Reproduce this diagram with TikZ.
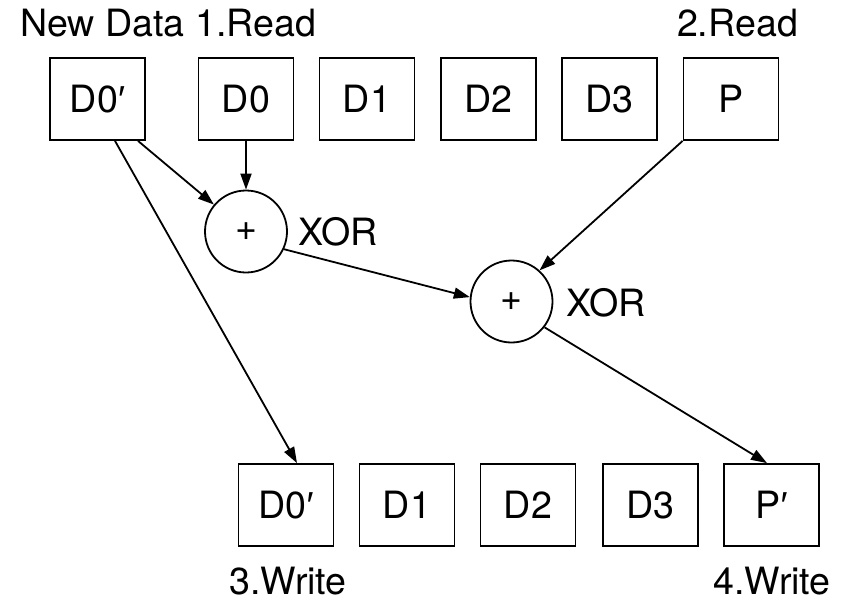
\documentclass[tikz,border=0pt]{standalone}
\usepackage{fontspec}
\setmainfont{TeX Gyre Heros}
\newfontfamily\primefont{Liberation Sans}
\newcommand{\prm}{{\primefont ′}}
\usetikzlibrary{arrows.meta}
\begin{document}
\begin{tikzpicture}[x=1pt,y=-1pt,
  txt/.style={font=\fontsize{37.6}{40}\selectfont},
  box/.style={draw, line width=1.8pt, minimum width=95pt, minimum height=82pt, inner sep=0pt, txt},
  xorc/.style={draw, circle, line width=1.8pt, minimum size=82pt, inner sep=0pt, txt},
  lbl/.style={inner sep=0pt, txt},
  conn/.style={line width=1.8pt, -{Triangle[length=16pt,width=11pt]}}]
\useasboundingbox (0,0) rectangle (850,602);
% top row
\node[box] (a0) at (97.5,99) {D0\prm};
\node[box] (d0) at (246,99) {D0};
\node[box] (d1) at (367,99) {D1};
\node[box] (d2) at (488.5,99) {D2};
\node[box] (d3) at (609.5,99) {D3};
\node[box] (p) at (731,99) {P};
% xor circles
\node[xorc] (c1) at (246,231.5) {+};
\node[xorc] (c2) at (511.5,301.5) {+};
% bottom row
\node[box] (b0) at (286,505) {D0\prm};
\node[box] (b1) at (407,505) {D1};
\node[box] (b2) at (528,505) {D2};
\node[box] (b3) at (650.5,505) {D3};
\node[box] (pp) at (771.5,505) {P\prm};
% labels
\node[lbl, anchor=base] (lnew) at (102.5,37) {New Data};
\node[lbl, anchor=base] (lr1) at (256,37) {1.Read};
\node[lbl, anchor=base] (lr2) at (737.5,37) {2.Read};
\node[lbl, anchor=base west] (lx1) at (298,245) {XOR};
\node[lbl, anchor=base west] (lx2) at (566,316) {XOR};
\node[lbl, anchor=base] (lw3) at (288,594) {3.Write};
\node[lbl, anchor=base] (lw4) at (772,594) {4.Write};
% connectors
\draw[conn] ([xshift=40.5pt]a0.south) -- (c1);
\draw[conn] ([xshift=17.5pt]a0.south) -- ([xshift=11pt]b0.north);
\draw[conn] (d0.south) -- (c1.north);
\draw[conn] (c1.-25) -- (c2.174);
\draw[conn] (p.south west) -- (c2.48);
\draw[conn] (c2.-38) -- ([xshift=-4.5pt]pp.north);
\end{tikzpicture}
\end{document}
